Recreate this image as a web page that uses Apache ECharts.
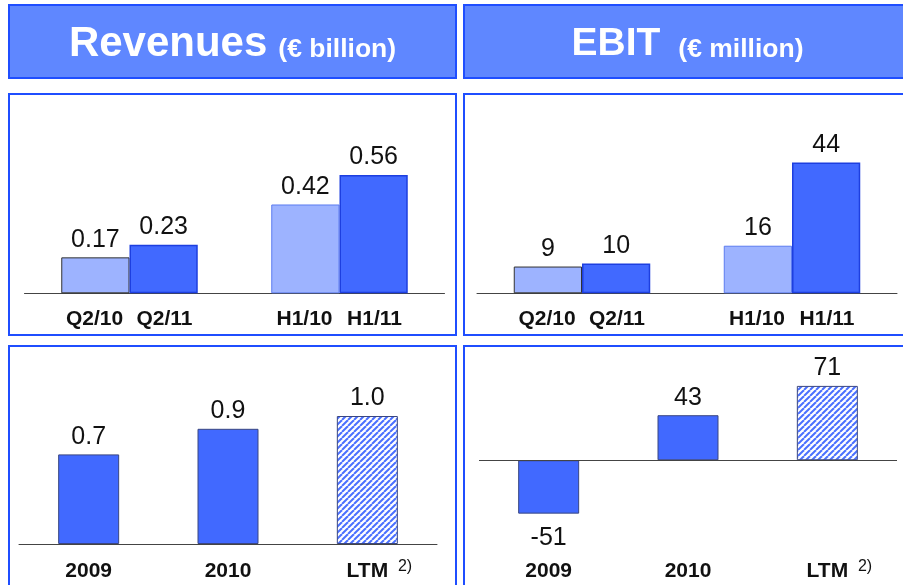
<!DOCTYPE html>
<html>
<head>
<meta charset="utf-8">
<script src="https://cdn.jsdelivr.net/npm/echarts@6/dist/echarts.min.js"></script>
<style>
  html, body { margin: 0; padding: 0; background: #fff; }
  #main { width: 903px; height: 585px; }
</style>
</head>
<body>
<div id="main"></div>
<script>
// data
var prevLabels = ['Q2/10', 'H1/10'];
var currLabels = ['Q2/11', 'H1/11'];
var revPrev = [0.17, 0.42];
var revCurr = [0.23, 0.56];
var ebitPrev = [9, 16];
var ebitCurr = [10, 44];
var years = ['2009', '2010', 'LTM'];
var revYears = [0.7, 0.9, 1.0];
var ebitYears = [-51, 43, 71];

var FONT = 'Arial, "Liberation Sans", sans-serif';
var LIGHT = '#9db3ff';
var DARK = '#4169ff';
var FRAME = '#1f4eff';

// hatched fill for the LTM bars
function hatch() {
    var c = document.createElement('canvas');
    c.width = 6; c.height = 6;
    var g = c.getContext('2d');
    g.fillStyle = '#ffffff';
    g.fillRect(0, 0, 6, 6);
    g.strokeStyle = '#4a70ff';
    g.lineWidth = 2;
    [-6, 0, 6].forEach(function (k) {
        g.beginPath();
        g.moveTo(k, 6);
        g.lineTo(k + 6, 0);
        g.stroke();
    });
    return { image: c, repeat: 'repeat' };
}
var HATCH = hatch();

var groupCats = prevLabels.map(function (p, i) { return p + '|' + currLabels[i]; });

function groupAxis(idx) {
    return {
        type: 'category', gridIndex: idx, data: groupCats,
        axisTick: { show: false },
        axisLine: { lineStyle: { color: '#444', width: 1 } },
        axisLabel: {
            margin: 14, interval: 0,
            formatter: function (v) { var s = v.split('|'); return '{p|' + s[0] + '}{c|' + s[1] + '}'; },
            rich: {
                p: { width: 70, align: 'center', fontSize: 21, fontWeight: 'bold', fontFamily: FONT, color: '#111', lineHeight: 24 },
                c: { width: 70, align: 'center', fontSize: 21, fontWeight: 'bold', fontFamily: FONT, color: '#111', lineHeight: 24 }
            }
        }
    };
}

function yearAxis(idx, lineShown) {
    return {
        type: 'category', gridIndex: idx, data: years,
        axisTick: { show: false },
        axisLine: { show: lineShown, onZero: false, lineStyle: { color: '#444', width: 1 } },
        axisLabel: {
            margin: 15, interval: 0,
            formatter: function (v) {
                return v === 'LTM' ? '{pad|}{b|LTM}{sup|2)}' : '{b|' + v + '}';
            },
            rich: {
                b: { fontSize: 21, fontWeight: 'bold', fontFamily: FONT, color: '#111', lineHeight: 24 },
                pad: { width: 24 },
                sup: { width: 24, align: 'right', fontSize: 16, fontFamily: FONT, color: '#111', verticalAlign: 'top', lineHeight: 16, padding: [0, 0, 10, 0] }
            }
        }
    };
}

function valLabel(fmt) {
    return {
        show: true, position: 'top', distance: 5,
        fontSize: 25, fontFamily: FONT, color: '#111',
        formatter: function (p) { return fmt(p.value); }
    };
}

var two = function (v) { return v.toFixed(2); };
var one = function (v) { return v.toFixed(1); };
var whole = function (v) { return String(v); };

function header(x, big, small, bigSize, gap) {
    return {
        type: 'text', x: x, y: 44,
        style: {
            text: '{a|' + big + '}{b|' + small + '}', align: 'center', verticalAlign: 'middle',
            rich: {
                a: { fontSize: bigSize, fontWeight: 'bold', fontFamily: FONT, fill: '#fff', lineHeight: 44 },
                b: { fontSize: 26.5, fontWeight: 'bold', fontFamily: FONT, fill: '#fff', verticalAlign: 'bottom', lineHeight: 28, padding: [0, 0, 3, gap] }
            }
        }
    };
}

var myChart = echarts.init(document.getElementById('main'));

var option = {
    backgroundColor: '#fff',
    animation: false,
    graphic: [
        { type: 'rect', shape: { x: 9, y: 5, width: 447, height: 73 }, style: { fill: '#5f87ff', stroke: FRAME, lineWidth: 2 } },
        { type: 'rect', shape: { x: 464, y: 5, width: 447, height: 73 }, style: { fill: '#5f87ff', stroke: FRAME, lineWidth: 2 } },
        { type: 'rect', shape: { x: 9, y: 94, width: 447, height: 241 }, style: { fill: 'none', stroke: FRAME, lineWidth: 2 } },
        { type: 'rect', shape: { x: 464, y: 94, width: 447, height: 241 }, style: { fill: 'none', stroke: FRAME, lineWidth: 2 } },
        { type: 'rect', shape: { x: 9, y: 346, width: 447, height: 260 }, style: { fill: 'none', stroke: FRAME, lineWidth: 2 } },
        { type: 'rect', shape: { x: 464, y: 346, width: 447, height: 260 }, style: { fill: 'none', stroke: FRAME, lineWidth: 2 } },
        header(232.5, 'Revenues', '(€ billion)', 42, 11),
        header(687.5, 'EBIT', '(€ million)', 39, 18)
    ],
    grid: [
        { left: 24.5, top: 103, width: 420, height: 190.3 },
        { left: 477, top: 103, width: 420, height: 190.3 },
        { left: 19, top: 352, width: 418, height: 194 },
        { left: 479, top: 366, width: 418, height: 180 }
    ],
    xAxis: [groupAxis(0), groupAxis(1), yearAxis(2, true), yearAxis(3, false)],
    yAxis: [
        { type: 'value', gridIndex: 0, min: 0, max: 0.9, show: false },
        { type: 'value', gridIndex: 1, min: 0, max: 64, show: false },
        { type: 'value', gridIndex: 2, min: 0, max: 1.5, show: false },
        { type: 'value', gridIndex: 3, min: -80, max: 90, show: false }
    ],
    series: [
        {
            type: 'bar', xAxisIndex: 0, yAxisIndex: 0,
            data: revPrev.map(function (v, i) {
                return { value: v, itemStyle: { borderColor: i === 0 ? '#333' : '#5c7cf0' } };
            }),
            barCategoryGap: '35%', barGap: 0,
            itemStyle: { color: LIGHT, borderWidth: 1 },
            label: valLabel(two)
        },
        {
            type: 'bar', xAxisIndex: 0, yAxisIndex: 0, data: revCurr,
            barCategoryGap: '35%', barGap: 0,
            itemStyle: { color: DARK, borderColor: '#1d3fe0', borderWidth: 1.5 },
            label: valLabel(two)
        },
        {
            type: 'bar', xAxisIndex: 1, yAxisIndex: 1,
            data: ebitPrev.map(function (v, i) {
                return { value: v, itemStyle: { borderColor: i === 0 ? '#333' : '#5c7cf0' } };
            }),
            barCategoryGap: '35%', barGap: 0,
            itemStyle: { color: LIGHT, borderWidth: 1 },
            label: valLabel(whole)
        },
        {
            type: 'bar', xAxisIndex: 1, yAxisIndex: 1, data: ebitCurr,
            barCategoryGap: '35%', barGap: 0,
            itemStyle: { color: DARK, borderColor: '#1d3fe0', borderWidth: 1.5 },
            label: valLabel(whole)
        },
        {
            type: 'bar', xAxisIndex: 2, yAxisIndex: 2, barWidth: 61,
            data: revYears.map(function (v, i) {
                return { value: v, itemStyle: { color: years[i] === 'LTM' ? HATCH : DARK } };
            }),
            itemStyle: { borderColor: '#3a4680', borderWidth: 1 },
            label: valLabel(one)
        },
        {
            type: 'bar', xAxisIndex: 3, yAxisIndex: 3, barWidth: 61,
            data: ebitYears.map(function (v, i) {
                return {
                    value: v,
                    itemStyle: { color: years[i] === 'LTM' ? HATCH : DARK },
                    label: v < 0 ? { position: 'bottom', distance: 12 } : { position: 'top' }
                };
            }),
            itemStyle: { borderColor: '#3a4680', borderWidth: 1 },
            label: valLabel(whole),
            markLine: {
                silent: true, symbol: 'none',
                label: { show: false },
                lineStyle: { color: '#444', width: 1, type: 'solid' },
                data: [{ yAxis: 0 }]
            }
        }
    ]
};

myChart.setOption(option);
</script>
</body>
</html>
